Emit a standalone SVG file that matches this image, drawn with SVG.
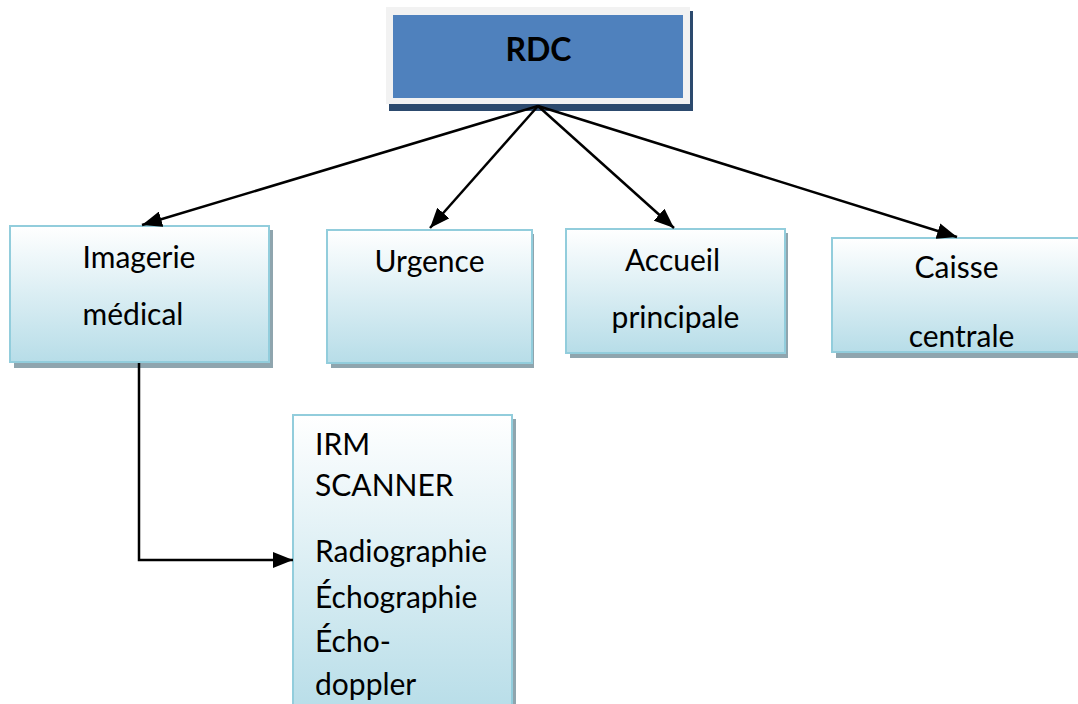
<svg xmlns="http://www.w3.org/2000/svg" width="1078" height="704" viewBox="0 0 1078 704">
<defs>
<linearGradient id="g" x1="0" y1="0" x2="0" y2="1">
<stop offset="0" stop-color="#FFFFFF"/>
<stop offset="1" stop-color="#B7DDE8"/>
</linearGradient>
<marker id="ah" markerUnits="userSpaceOnUse" markerWidth="22" markerHeight="16" refX="20" refY="8" orient="auto">
<path d="M0,0 L20,8 L0,16 Z" fill="#000"/>
</marker>
</defs>
<style>
.box{fill:url(#g);stroke:#92CDDC;stroke-width:2}
.sh{fill:#8FA5AE}
.t{font-family:Lato,"Open Sans","Liberation Sans",sans-serif;font-size:30px;fill:#000}
.c{stroke:#000;stroke-width:2.5;fill:none;marker-end:url(#ah)}
</style>
<rect width="1078" height="704" fill="#fff"/>
<g id="rdc">
<rect x="389" y="11" width="304" height="100" fill="#2C4A6E"/>
<rect x="386" y="7" width="304" height="97" fill="#F2F2F2"/>
<rect x="393" y="15" width="290" height="83" fill="#4F81BD"/>
<text x="538.5" y="61" text-anchor="middle" class="t" style="font-weight:bold;font-size:32px">RDC</text>
</g>
<g id="imagerie">
<rect class="sh" x="14" y="230" width="259" height="138"/>
<rect class="box" x="10" y="226" width="259" height="136"/>
<text class="t" x="139" y="268" text-anchor="middle">Imagerie</text>
<text class="t" x="133" y="325" text-anchor="middle">médical</text>
</g>
<g id="urgence">
<rect class="sh" x="331" y="234" width="203" height="134"/>
<rect class="box" x="327" y="230" width="205" height="133"/>
<text class="t" x="429.5" y="272" text-anchor="middle">Urgence</text>
</g>
<g id="accueil">
<rect class="sh" x="570" y="233" width="218" height="125"/>
<rect class="box" x="566" y="229" width="219" height="124"/>
<text class="t" x="672.5" y="271" text-anchor="middle">Accueil</text>
<text class="t" x="675.5" y="328" text-anchor="middle">principale</text>
</g>
<g id="caisse">
<rect class="sh" x="836" y="242" width="260" height="116"/>
<rect class="box" x="832" y="238" width="260" height="114"/>
<text class="t" x="956.5" y="278" text-anchor="middle">Caisse</text>
<text class="t" x="961.5" y="347" text-anchor="middle">centrale</text>
</g>
<g id="imagerie-list">
<rect class="sh" x="297" y="419" width="219" height="300"/>
<rect class="box" x="293" y="415" width="219" height="300"/>
<text class="t" x="315" y="455">IRM</text>
<text class="t" x="315" y="496">SCANNER</text>
<text class="t" x="315" y="562">Radiographie</text>
<text class="t" x="315" y="608">Échographie</text>
<text class="t" x="315" y="652">Écho-</text>
<text class="t" x="315" y="695">doppler</text>
</g>
<g id="connectors">
<path class="c" d="M538,106 L142,225"/>
<path class="c" d="M538,106 L430,228"/>
<path class="c" d="M538,106 L674,228"/>
<path class="c" d="M538,106 L957,237"/>
<path class="c" d="M139,363 L139,560 L293,560"/>
</g>
</svg>
